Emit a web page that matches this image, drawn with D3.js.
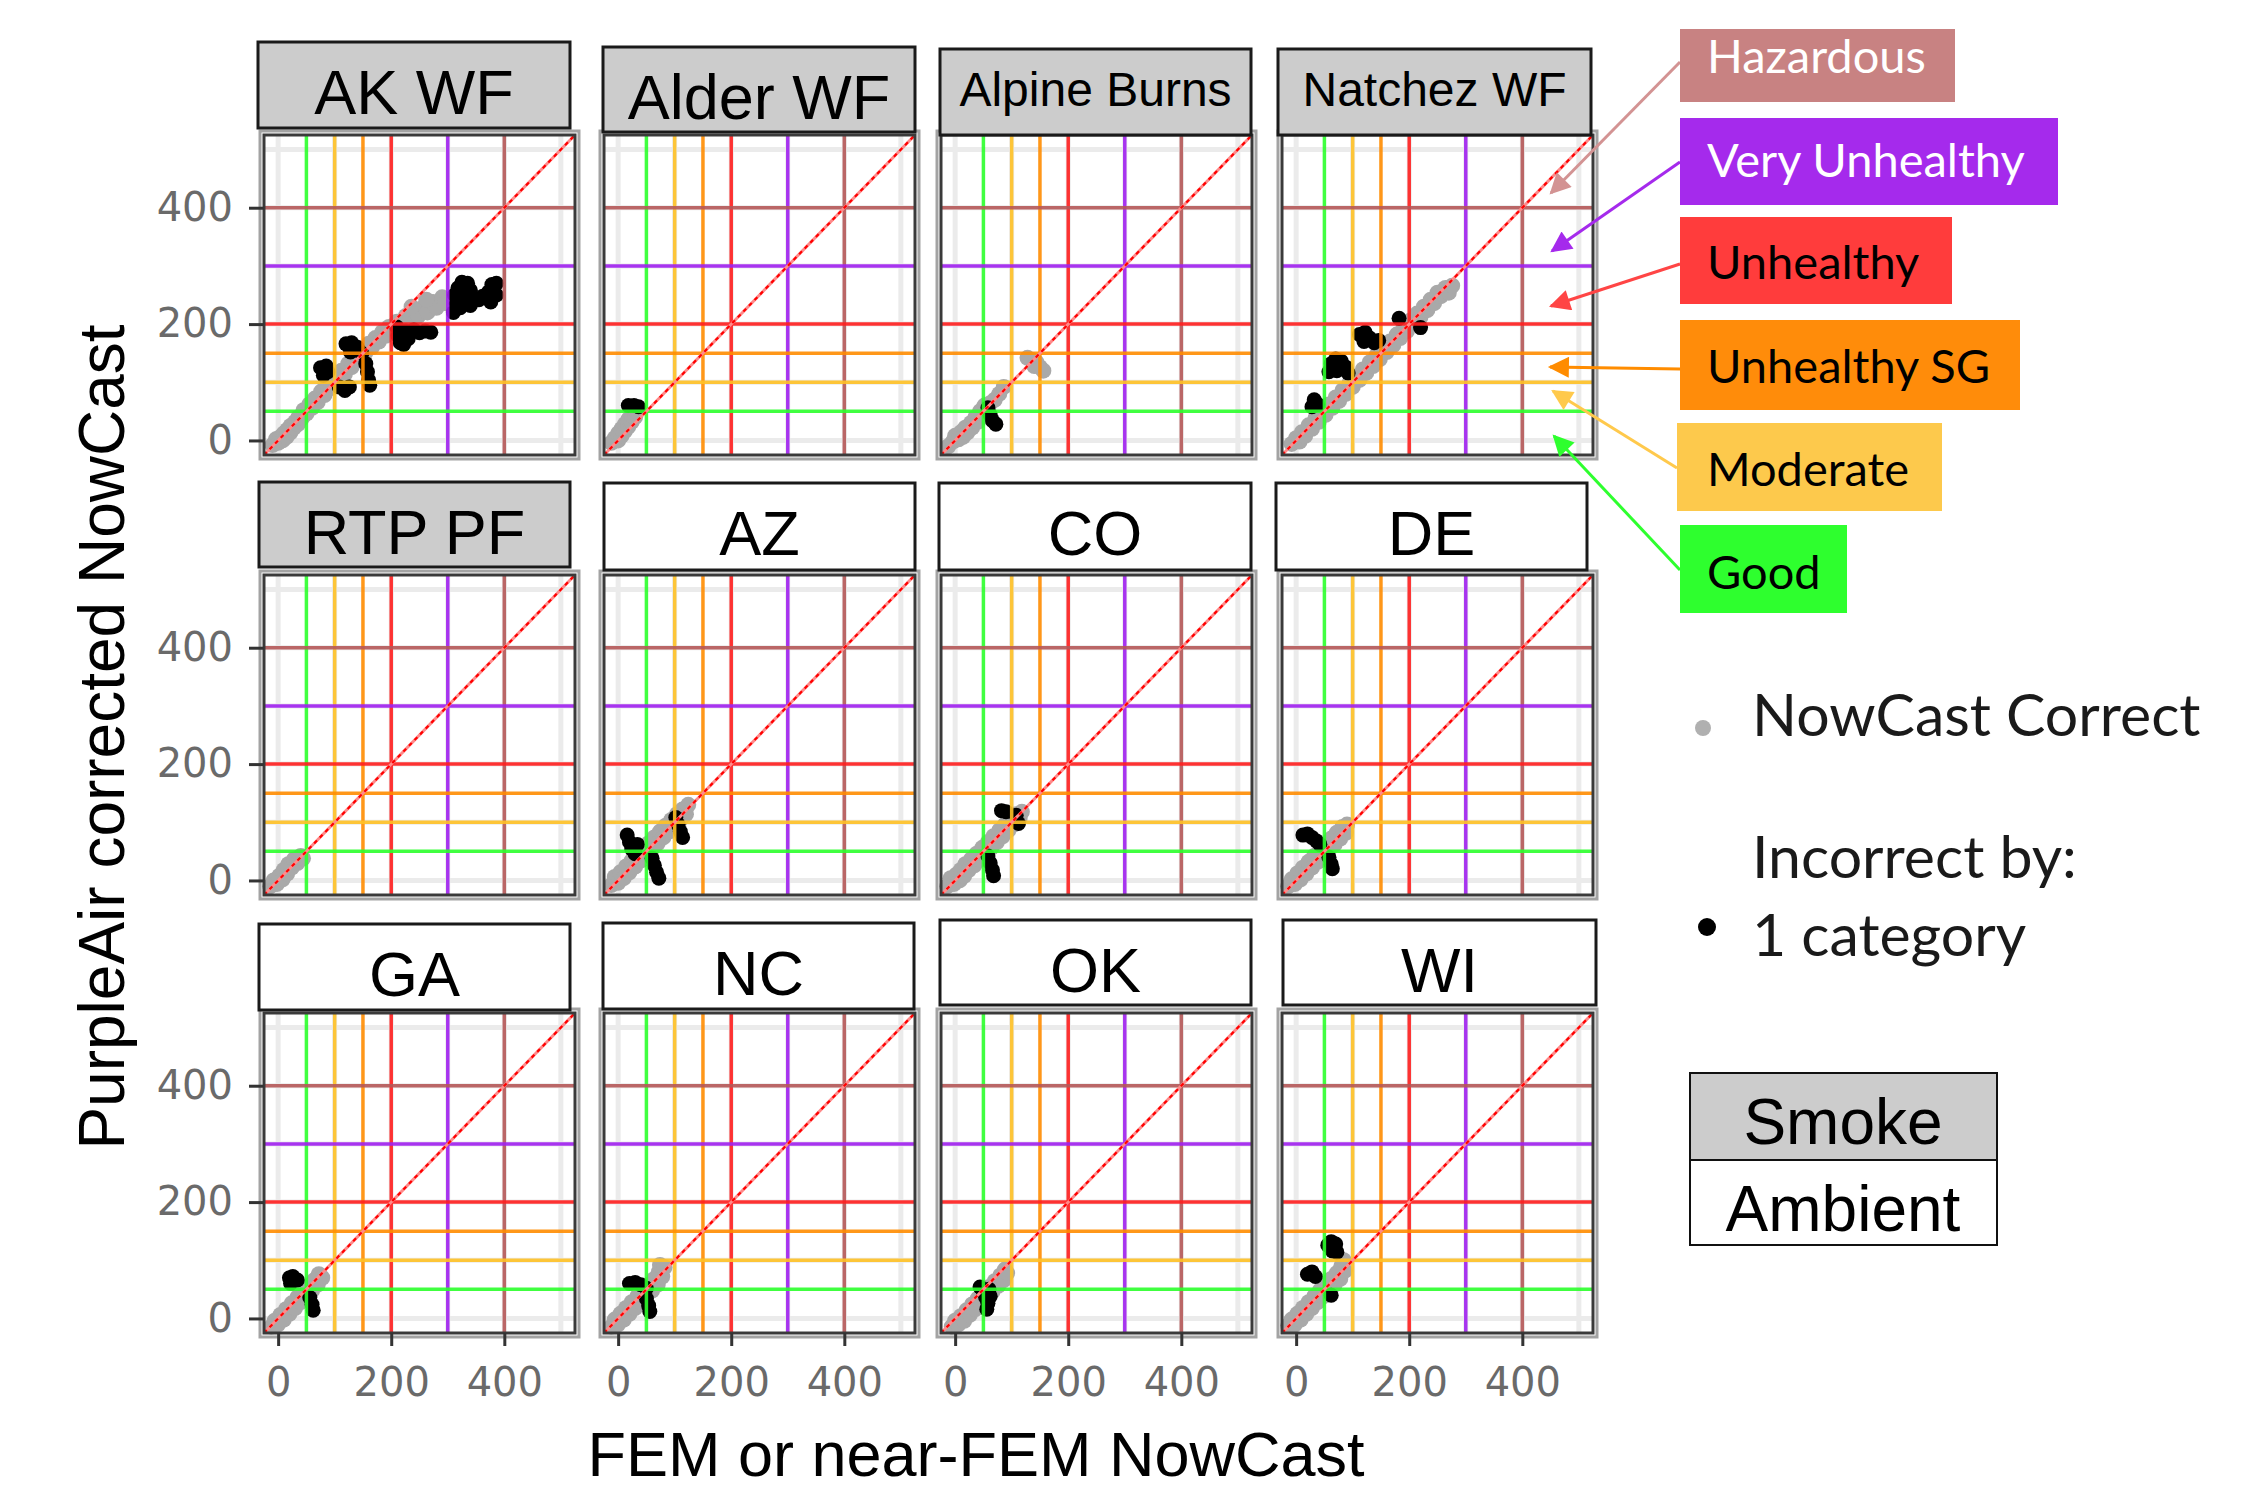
<!DOCTYPE html>
<html>
<head>
<meta charset="utf-8">
<script src="https://cdn.jsdelivr.net/npm/d3@7"></script>
<style>
  body { margin: 0; background: #fff; }
  svg text { font-family: "Liberation Sans", Arial, sans-serif; }
</style>
</head>
<body>
<svg id="chart" width="2257" height="1493"></svg>
<script>
// facets, in reading order
var sites = ["AK WF", "Alder WF", "Alpine Burns", "Natchez WF", "RTP PF", "AZ", "CO", "DE", "GA", "NC", "OK", "WI"];
var smoke = [true, true, true, true, true, false, false, false, false, false, false, false];

// AQI breakpoints drawn as lines
var breaks = [50, 100, 150, 200, 300, 400];
var breakColors = ["#2bff2b", "#ffc125", "#ff8c00", "#ff1e1e", "#a020f0", "#b55858"];
var gridVals = [0, 100, 200, 300, 400, 500];
var axisTicks = [0, 200, 400];

// legend categories (top to bottom)
var legendLabels = ["Hazardous", "Very Unhealthy", "Unhealthy", "Unhealthy SG", "Moderate", "Good"];
var legendFill = ["#c88282", "#a52aec", "#ff3c3c", "#ff8c0a", "#fdc94c", "#2eff2e"];
var legendInk = ["#ffffff", "#ffffff", "#000000", "#000000", "#000000", "#000000"];
var arrowInk = ["#d39393", "#a52aec", "#ff4545", "#ff8c00", "#ffc94c", "#2eff2e"];

// points: [FEM NowCast, PurpleAir NowCast]
var okAK = [[-10,-8],[-4,2],[0,-4],[4,6],[8,0],[10,12],[15,6],[16,18],[22,14],[22,25],[28,22],[30,32],[35,28],[36,40],[42,38],
  [45,52],[50,46],[55,62],[60,56],[65,72],[70,66],[76,84],[82,78],[88,96],[94,90],[100,108],[106,102],[112,120],[118,114],
  [124,132],[130,126],[136,144],[142,138],[148,155],[154,150],[160,166],[166,160],[172,176],[178,170],[184,186],[190,180],
  [196,195],[202,190],[210,204],[216,198],[226,214],[232,206],[242,222],[248,214],[258,230],[264,220],[274,238],[280,228],
  [290,246],[296,236],[236,230],[262,242]];
var badAK = [[75,125],[85,128],[80,112],[88,118],[108,92],[118,86],[126,92],
  [120,166],[130,168],[140,160],[148,150],[128,152],[155,132],[158,118],[160,104],[162,95],
  [210,195],[212,180],[216,168],[225,188],[230,175],[240,190],[250,185],[260,188],[270,186],[222,165],
  [310,220],[315,235],[312,250],[318,262],[325,272],[335,270],[340,258],[330,248],[322,228],[345,245],
  [355,242],[362,248],[372,255],[378,268],[386,270],[386,250],[376,238],[340,232]];

var okAlder = [[-12,-4],[-6,4],[0,0],[0,12],[6,8],[6,20],[12,16],[12,28],[18,24],[18,36],[24,32],[24,44],[30,40],[32,50]];
var badAlder = [[18,60],[28,60],[36,58]];

var okAlpine = [[-12,-10],[-4,-2],[0,8],[6,2],[10,14],[14,6],[18,22],[22,14],[28,30],[30,22],[36,40],[40,32],[44,50],
  [48,42],[52,60],[56,54],[62,64],[70,70],[78,80],[86,92],[128,142],[136,138],[144,134],[150,126],[156,120],[140,128]];
var badAlpine = [[58,56],[62,44],[66,34],[72,28]];

var okNatchez = [[-8,-6],[0,4],[6,-2],[10,14],[16,8],[22,26],[28,20],[34,38],[40,32],[46,50],[52,44],[58,62],[64,56],
  [70,74],[76,68],[82,86],[88,80],[94,98],[100,92],[106,110],[112,104],[118,122],[124,116],[130,134],[136,128],[142,146],
  [148,140],[154,158],[160,152],[166,170],[172,164],[178,182],[184,176],[190,194],[196,188],[202,206],[208,200],[214,218],
  [220,212],[226,230],[232,224],[238,242],[244,236],[250,254],[256,248],[264,262],[270,254],[276,266]];
var badNatchez = [[28,58],[32,70],[38,62],[58,118],[62,132],[70,140],[80,136],[88,126],[72,120],[92,116],
  [112,182],[122,186],[130,176],[138,168],[120,170],[146,172],[182,210],[220,194]];

var okRTP = [[-14,-10],[-8,0],[-2,-6],[2,8],[8,2],[10,18],[16,12],[18,28],[24,22],[28,36],[34,30],[40,42],[44,38]];
var badRTP = [];

var okAZ = [[-12,-8],[-6,6],[0,-4],[4,14],[10,4],[14,24],[20,14],[24,34],[30,24],[34,44],[40,34],[44,54],[50,44],
  [54,64],[60,54],[64,74],[70,64],[74,84],[80,74],[84,94],[90,84],[94,104],[100,94],[104,114],[110,104],[114,122],
  [120,114],[124,130]];
var badAZ = [[16,78],[20,66],[24,54],[30,46],[34,62],[60,38],[64,26],[68,14],[72,4],[102,108],[106,96],[110,84],[114,74]];

var okCO = [[-14,-10],[-8,4],[-2,-6],[2,10],[8,0],[10,18],[16,8],[18,28],[24,18],[28,36],[34,26],[38,46],[44,36],
  [48,56],[54,46],[58,66],[64,56],[68,76],[74,66],[78,86],[84,76],[88,96],[94,86],[98,106],[104,96],[108,114],
  [114,106],[118,118]];
var badCO = [[58,42],[62,30],[66,18],[68,8],[82,120],[90,118],[108,112],[112,98]];

var okDE = [[-14,-10],[-8,2],[-2,-6],[2,12],[8,2],[12,22],[18,12],[22,32],[28,22],[32,42],[38,32],[42,52],[48,42],
  [52,62],[58,52],[62,72],[68,62],[72,82],[78,72],[82,92],[88,82],[90,96]];
var badDE = [[12,78],[20,80],[28,74],[36,68],[42,62],[58,40],[62,28],[64,20]];

var okGA = [[-12,-14],[-6,-4],[0,-10],[4,6],[10,-2],[14,16],[20,8],[24,26],[30,18],[34,36],[40,28],[44,46],[50,38],
  [54,56],[60,48],[64,66],[70,58],[72,76],[78,70]];
var badGA = [[20,70],[26,72],[22,60],[34,66],[56,36],[60,24],[62,14]];

var okNC = [[-12,-14],[-6,-2],[0,-10],[4,8],[10,-2],[14,18],[20,8],[24,28],[30,18],[34,38],[40,28],[44,48],[50,38],
  [54,58],[60,48],[64,68],[70,58],[72,80],[78,72],[74,92],[82,88]];
var badNC = [[20,60],[30,62],[40,58],[50,52],[50,34],[54,22],[56,12]];

var okOK = [[-6,-14],[0,-4],[6,-10],[10,4],[16,-4],[20,14],[26,6],[30,24],[36,16],[40,34],[46,26],[50,44],[56,36],
  [60,54],[66,46],[70,64],[76,56],[80,74],[86,66],[88,84],[92,78]];
var badOK = [[44,54],[50,46],[54,36],[58,26],[62,38],[60,50],[56,16]];

var okWI = [[-14,-12],[-8,-2],[-2,-10],[2,8],[8,-2],[12,18],[18,8],[22,28],[28,18],[32,38],[38,28],[42,48],[48,38],
  [52,58],[58,48],[62,68],[68,58],[72,78],[78,68],[80,90],[86,82],[84,100]];
var badWI = [[56,126],[62,132],[70,128],[64,116],[72,114],[20,76],[28,80],[34,72],[62,40]];

var okPts = [okAK, okAlder, okAlpine, okNatchez, okRTP, okAZ, okCO, okDE, okGA, okNC, okOK, okWI];
var badPts = [badAK, badAlder, badAlpine, badNatchez, badRTP, badAZ, badCO, badDE, badGA, badNC, badOK, badWI];

// ---- layout ----
var W = 311, H = 320;
var colX = [264, 604, 941, 1282];
var rowY = [135, 575, 1013];
// strip boxes [x0, y0, x1, y1] (pasted labels, slightly off the grid)
var stripBox = [[258,42,570,128],[603,47,915,132],[940,49,1251,135],[1278,49,1591,135],
  [259,482,570,567],[604,483,915,570],[939,483,1251,570],[1276,483,1587,570],
  [259,924,570,1010],[603,923,914,1009],[940,920,1251,1005],[1283,920,1596,1005]];

var svg = d3.select("#chart");
svg.append("rect").attr("width", 2257).attr("height", 1493).attr("fill", "#fff");

var x = d3.scaleLinear().domain([-25, 525]).range([0, W]);
var y = d3.scaleLinear().domain([-25, 525]).range([H, 0]);

sites.forEach(function (site, i) {
    var col = i % 4, row = Math.floor(i / 4);
    var g = svg.append("g")
        .attr("transform", "translate(" + colX[col] + "," + rowY[row] + ")");

    // outer light frame
    g.append("rect")
        .attr("x", -4).attr("y", -4).attr("width", W + 8).attr("height", H + 8)
        .attr("fill", "none").attr("stroke", "#a3a3a3").attr("stroke-width", 3);
    g.append("rect").attr("width", W).attr("height", H).attr("fill", "#fff");

    g.selectAll(".gv").data(gridVals).enter().append("line")
        .attr("x1", function (d) { return x(d); }).attr("x2", function (d) { return x(d); })
        .attr("y1", 0).attr("y2", H)
        .attr("stroke", "#ebebeb").attr("stroke-width", 5);
    g.selectAll(".gh").data(gridVals).enter().append("line")
        .attr("y1", function (d) { return y(d); }).attr("y2", function (d) { return y(d); })
        .attr("x1", 0).attr("x2", W)
        .attr("stroke", "#ebebeb").attr("stroke-width", 5);

    g.selectAll(".ok").data(okPts[i]).enter().append("circle")
        .attr("cx", function (d) { return x(d[0]); })
        .attr("cy", function (d) { return y(d[1]); })
        .attr("r", 8)
        .attr("fill", "#a9a9a9");
    g.selectAll(".bad").data(badPts[i]).enter().append("circle")
        .attr("cx", function (d) { return x(d[0]); })
        .attr("cy", function (d) { return y(d[1]); })
        .attr("r", 7.5)
        .attr("fill", "#000");

    g.selectAll(".bv").data(breaks).enter().append("line")
        .attr("x1", function (d) { return x(d); }).attr("x2", function (d) { return x(d); })
        .attr("y1", 0).attr("y2", H)
        .attr("stroke", function (d, k) { return breakColors[k]; })
        .attr("stroke-opacity", 0.9)
        .attr("stroke-width", 3.5);
    g.selectAll(".bh").data(breaks).enter().append("line")
        .attr("y1", function (d) { return y(d); }).attr("y2", function (d) { return y(d); })
        .attr("x1", 0).attr("x2", W)
        .attr("stroke", function (d, k) { return breakColors[k]; })
        .attr("stroke-opacity", 0.9)
        .attr("stroke-width", 3.5);

    // 1:1 line
    g.append("line")
        .attr("x1", x(-25)).attr("y1", y(-25)).attr("x2", x(525)).attr("y2", y(525))
        .attr("stroke", "#ff8a8a").attr("stroke-width", 3);
    g.append("line")
        .attr("x1", x(-25)).attr("y1", y(-25)).attr("x2", x(525)).attr("y2", y(525))
        .attr("stroke", "#ff0000").attr("stroke-width", 2.2)
        .attr("stroke-dasharray", "4,4");

    g.append("rect").attr("width", W).attr("height", H)
        .attr("fill", "none").attr("stroke", "#3a3a3a").attr("stroke-width", 3);

    if (col === 0) {
        var ya = g.append("g").call(d3.axisLeft(y).tickValues(axisTicks).tickSize(15).tickPadding(16));
        ya.select(".domain").remove();
        ya.selectAll(".tick line").attr("stroke", "#333").attr("stroke-width", 3);
        ya.selectAll(".tick text")
            .style("font-family", "'DejaVu Sans', sans-serif")
            .style("font-size", "40px").attr("fill", "#6a6a6a");
    }
    if (row === 2) {
        var xa = g.append("g").attr("transform", "translate(0," + H + ")")
            .call(d3.axisBottom(x).tickValues(axisTicks).tickSize(13).tickPadding(22));
        xa.select(".domain").remove();
        xa.selectAll(".tick line").attr("stroke", "#333").attr("stroke-width", 3);
        xa.selectAll(".tick text")
            .style("font-family", "'DejaVu Sans', sans-serif")
            .style("font-size", "40px").attr("fill", "#6a6a6a");
    }

    // strip label
    var b = stripBox[i];
    var big = site.length < 9;
    svg.append("rect")
        .attr("x", b[0]).attr("y", b[1]).attr("width", b[2] - b[0]).attr("height", b[3] - b[1])
        .attr("fill", smoke[i] ? "#cccccc" : "#ffffff")
        .attr("stroke", "#1a1a1a").attr("stroke-width", 3);
    svg.append("text")
        .attr("x", (b[0] + b[2]) / 2)
        .attr("y", b[1] + (big ? 72 : 57))
        .attr("text-anchor", "middle")
        .style("font-size", big ? "63px" : "48px")
        .attr("fill", "#000")
        .text(site);
});

// axis titles
svg.append("text")
    .attr("transform", "translate(124,737) rotate(-90)")
    .attr("text-anchor", "middle")
    .style("font-size", "64px")
    .text("PurpleAir corrected NowCast");
svg.append("text")
    .attr("x", 976).attr("y", 1476)
    .attr("text-anchor", "middle")
    .style("font-size", "63px")
    .text("FEM or near-FEM NowCast");

// category call-outs
var boxY = [[29,102],[118,205],[217,304],[320,410],[423,511],[525,613]];
var boxX = [[1680,1955],[1680,2058],[1680,1952],[1680,2020],[1677,1942],[1680,1847]];
var labelY = [73, 177, 279, 383, 486, 589];
var arrowFrom = [[1680,62],[1680,162],[1680,264],[1680,369],[1677,468],[1680,570]];
var arrowTo = [[1551,193],[1552,251],[1551,306],[1550,367],[1553,391],[1554,436]];

var defs = svg.append("defs");
legendLabels.forEach(function (lab, k) {
    defs.append("marker")
        .attr("id", "head" + k)
        .attr("viewBox", "0 0 10 10").attr("refX", 9).attr("refY", 5)
        .attr("markerWidth", 8).attr("markerHeight", 7)
        .attr("orient", "auto")
        .append("path").attr("d", "M0,0L10,5L0,10z").attr("fill", arrowInk[k]);

    svg.append("line")
        .attr("x1", arrowFrom[k][0]).attr("y1", arrowFrom[k][1])
        .attr("x2", arrowTo[k][0]).attr("y2", arrowTo[k][1])
        .attr("stroke", arrowInk[k]).attr("stroke-width", 3)
        .attr("marker-end", "url(#head" + k + ")");

    svg.append("rect")
        .attr("x", boxX[k][0]).attr("y", boxY[k][0])
        .attr("width", boxX[k][1] - boxX[k][0]).attr("height", boxY[k][1] - boxY[k][0])
        .attr("fill", legendFill[k]);
    svg.append("text")
        .attr("x", 1707).attr("y", labelY[k])
        .style("font-family", "Lato, sans-serif")
        .style("font-size", "47px")
        .attr("fill", legendInk[k])
        .text(lab);
});

// point legend
svg.append("circle").attr("cx", 1703).attr("cy", 728).attr("r", 8).attr("fill", "#b0b0b0");
svg.append("circle").attr("cx", 1707).attr("cy", 927).attr("r", 9).attr("fill", "#000");
[["NowCast Correct", 736], ["Incorrect by:", 878], ["1 category", 956]].forEach(function (t) {
    svg.append("text")
        .attr("x", 1752).attr("y", t[1])
        .style("font-family", "Lato, sans-serif")
        .style("font-size", "59px")
        .attr("fill", "#1a1a1a")
        .text(t[0]);
});

// strip key
svg.append("rect").attr("x", 1690).attr("y", 1073).attr("width", 307).attr("height", 87)
    .attr("fill", "#cccccc").attr("stroke", "#111").attr("stroke-width", 2);
svg.append("rect").attr("x", 1690).attr("y", 1160).attr("width", 307).attr("height", 85)
    .attr("fill", "#fff").attr("stroke", "#111").attr("stroke-width", 2);
svg.append("text").attr("x", 1843).attr("y", 1144).attr("text-anchor", "middle")
    .style("font-size", "64px").text("Smoke");
svg.append("text").attr("x", 1843).attr("y", 1231).attr("text-anchor", "middle")
    .style("font-size", "64px").text("Ambient");
</script>
</body>
</html>
